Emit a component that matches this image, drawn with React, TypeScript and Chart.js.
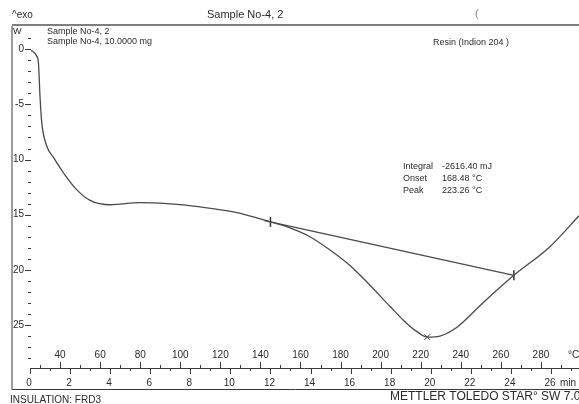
import React, { useEffect, useRef } from "react";
import { Chart, registerables } from "chart.js";
Chart.register(...registerables);

// DSC curve: temperature (°C) vs heat flow (mW)
const temperatureC = [25.5, 27, 28.3, 29.2, 30, 30.9, 33.4, 36.7, 41.7, 48.4, 55, 65, 80, 93.5, 110, 126.5, 145, 154.7, 164.7, 174.7, 184.7, 194.7, 204.6, 212.1, 218.1, 223.3, 229.6, 238.1, 251, 266.5, 284.5, 299];
const heatFlowMW = [-0.1, -0.3, -0.6, -1.2, -4.3, -6.7, -8.8, -9.8, -11.2, -12.75, -13.7, -14.1, -13.9, -14.0, -14.3, -14.75, -15.65, -16.2, -17.0, -18.2, -19.6, -21.4, -23.3, -24.7, -25.6, -26.1, -26.0, -25.2, -23.0, -20.5, -17.9, -15.1];

// integration baseline and markers
const baselineT = [142, 266.5];
const baselineMW = [-15.53, -20.5];
const limitT = [145, 266.5];
const limitMW = [-15.65, -20.5];
const peakT = [223.26];
const peakMW = [-26.1];

// axis ticks
const tempTicks = [40, 60, 80, 100, 120, 140, 160, 180, 200, 220, 240, 260, 280];
const timeTicks = [0, 2, 4, 6, 8, 10, 12, 14, 16, 18, 20, 22, 24, 26];
const yTickValues = [0, -5, -10, -15, -20, -25];
const yTickLabels = ["0", "-5", "10", "15", "20", "25"];
const startTemp = 25; // °C at 0 min
const heatingRate = 10; // °C / min

const resultLabels = ["Integral", "Onset", "Peak"];
const resultValues = ["-2616.40 mJ", "168.48 °C", "223.26 °C"];

const FONT = '"Liberation Sans", Arial, sans-serif';

const decor = {
  id: "decor",
  afterDraw(chart: any) {
    const ctx = chart.ctx as CanvasRenderingContext2D;
    const xs = chart.scales.x;
    const ys = chart.scales.y;
    const axisY = chart.chartArea.bottom;
    const W = chart.width;
    ctx.save();
    ctx.strokeStyle = "#3a3a3a";
    ctx.fillStyle = "#2a2a2a";
    ctx.lineWidth = 1;

    // frame
    ctx.beginPath();
    ctx.moveTo(12, 26);
    ctx.lineTo(12, 389.5);
    ctx.lineTo(W, 389.5);
    ctx.stroke();
    ctx.lineWidth = 1.5;
    ctx.strokeStyle = "#555";
    ctx.beginPath();
    ctx.moveTo(12, 25);
    ctx.lineTo(W, 25);
    ctx.stroke();
    ctx.strokeStyle = "#3a3a3a";
    ctx.lineWidth = 1;

    // x axis line
    const x0 = xs.getPixelForValue(startTemp);
    ctx.beginPath();
    ctx.moveTo(x0, axisY + 0.5);
    ctx.lineTo(W, axisY + 0.5);
    ctx.stroke();

    // temperature ticks (above)
    for (let t = 30; t <= 290; t += 10) {
      const px = Math.round(xs.getPixelForValue(t)) + 0.5;
      const len = t % 20 === 0 ? 6 : 3;
      ctx.beginPath();
      ctx.moveTo(px, axisY);
      ctx.lineTo(px, axisY - len);
      ctx.stroke();
    }
    // time ticks (below)
    for (let m = 0; m <= 27; m += 1) {
      const px = Math.round(xs.getPixelForValue(startTemp + heatingRate * m)) + 0.5;
      const len = m % 2 === 0 ? 6 : 3;
      ctx.beginPath();
      ctx.moveTo(px, axisY);
      ctx.lineTo(px, axisY + len);
      ctx.stroke();
    }

    ctx.font = `10px ${FONT}`;
    ctx.textAlign = "center";
    ctx.textBaseline = "middle";
    tempTicks.forEach((t) => ctx.fillText(String(t), xs.getPixelForValue(t), 355));
    timeTicks.forEach((m) => ctx.fillText(String(m), xs.getPixelForValue(startTemp + heatingRate * m) - 1, 383));
    ctx.textAlign = "left";
    ctx.fillText("°C", 568, 355);
    ctx.fillText("min", 560, 383);

    // y ticks
    for (let v = 1; v >= -28; v -= 1) {
      const py = Math.round(ys.getPixelForValue(v)) + 0.5;
      const major = v % 5 === 0;
      ctx.beginPath();
      ctx.moveTo(major ? 25 : 28, py);
      ctx.lineTo(31, py);
      ctx.stroke();
    }
    ctx.textAlign = "right";
    yTickValues.forEach((v, i) => ctx.fillText(yTickLabels[i], 24, ys.getPixelForValue(v)));

    // texts
    ctx.textAlign = "left";
    ctx.font = `10px ${FONT}`;
    ctx.fillText("^exo", 12, 15);
    ctx.font = `11px ${FONT}`;
    ctx.fillText("Sample No-4, 2", 207, 15);
    ctx.fillStyle = "#888";
    ctx.fillText("(", 475, 14);
    ctx.fillStyle = "#2a2a2a";
    ctx.font = `9px ${FONT}`;
    ctx.fillText("W", 13, 32);
    ctx.fillText("Sample No-4, 2", 47, 32);
    ctx.fillText("Sample No-4, 10.0000 mg", 47, 42);
    ctx.fillText("Resin (Indion 204 )", 433, 43);
    resultLabels.forEach((l, i) => {
      ctx.fillText(l, 403, 167 + i * 12);
      ctx.fillText(resultValues[i], 442, 167 + i * 12);
    });
    ctx.font = `10px ${FONT}`;
    ctx.fillText("INSULATION: FRD3", 10, 400);
    ctx.font = `12px ${FONT}`;
    ctx.fillText("METTLER TOLEDO STAR° SW 7.01", 390, 397);
    ctx.restore();
  },
};

export default function App() {
  const ref = useRef<HTMLCanvasElement | null>(null);
  useEffect(() => {
    if (!ref.current) return;
    const chart = new Chart(ref.current, {
      type: "line",
      data: {
        datasets: [
          {
            data: temperatureC.map((t, i) => ({ x: t, y: heatFlowMW[i] })),
            borderColor: "#4a4a4a",
            borderWidth: 1.3,
            pointRadius: 0,
            cubicInterpolationMode: "monotone",
            fill: false,
            clip: false,
          },
          {
            data: baselineT.map((t, i) => ({ x: t, y: baselineMW[i] })),
            borderColor: "#4a4a4a",
            borderWidth: 1.3,
            pointRadius: 0,
            fill: false,
          },
          {
            data: limitT.map((t, i) => ({ x: t, y: limitMW[i] })),
            showLine: false,
            pointStyle: "line",
            rotation: 90,
            pointRadius: 5,
            borderColor: "#333",
            pointBorderWidth: 1.5,
          },
          {
            data: peakT.map((t, i) => ({ x: t, y: peakMW[i] })),
            showLine: false,
            pointStyle: "crossRot",
            pointRadius: 4,
            borderColor: "#333",
            pointBorderWidth: 1,
          },
        ],
      },
      options: {
        responsive: false,
        animation: false,
        layout: { autoPadding: false, padding: { left: 30, right: 0, top: 25, bottom: 36 } },
        plugins: { legend: { display: false }, tooltip: { enabled: false } },
        scales: {
          x: { type: "linear", min: 25, max: 299, display: false },
          y: { type: "linear", min: -28.9, max: 2.2, display: false },
        },
      },
      plugins: [decor],
    } as any);
    return () => chart.destroy();
  }, []);
  return (
    <div style={{ position: "absolute", left: 0, top: 0, width: 579, height: 404, background: "#fff" }}>
      <canvas ref={ref} width={579} height={404} />
    </div>
  );
}
